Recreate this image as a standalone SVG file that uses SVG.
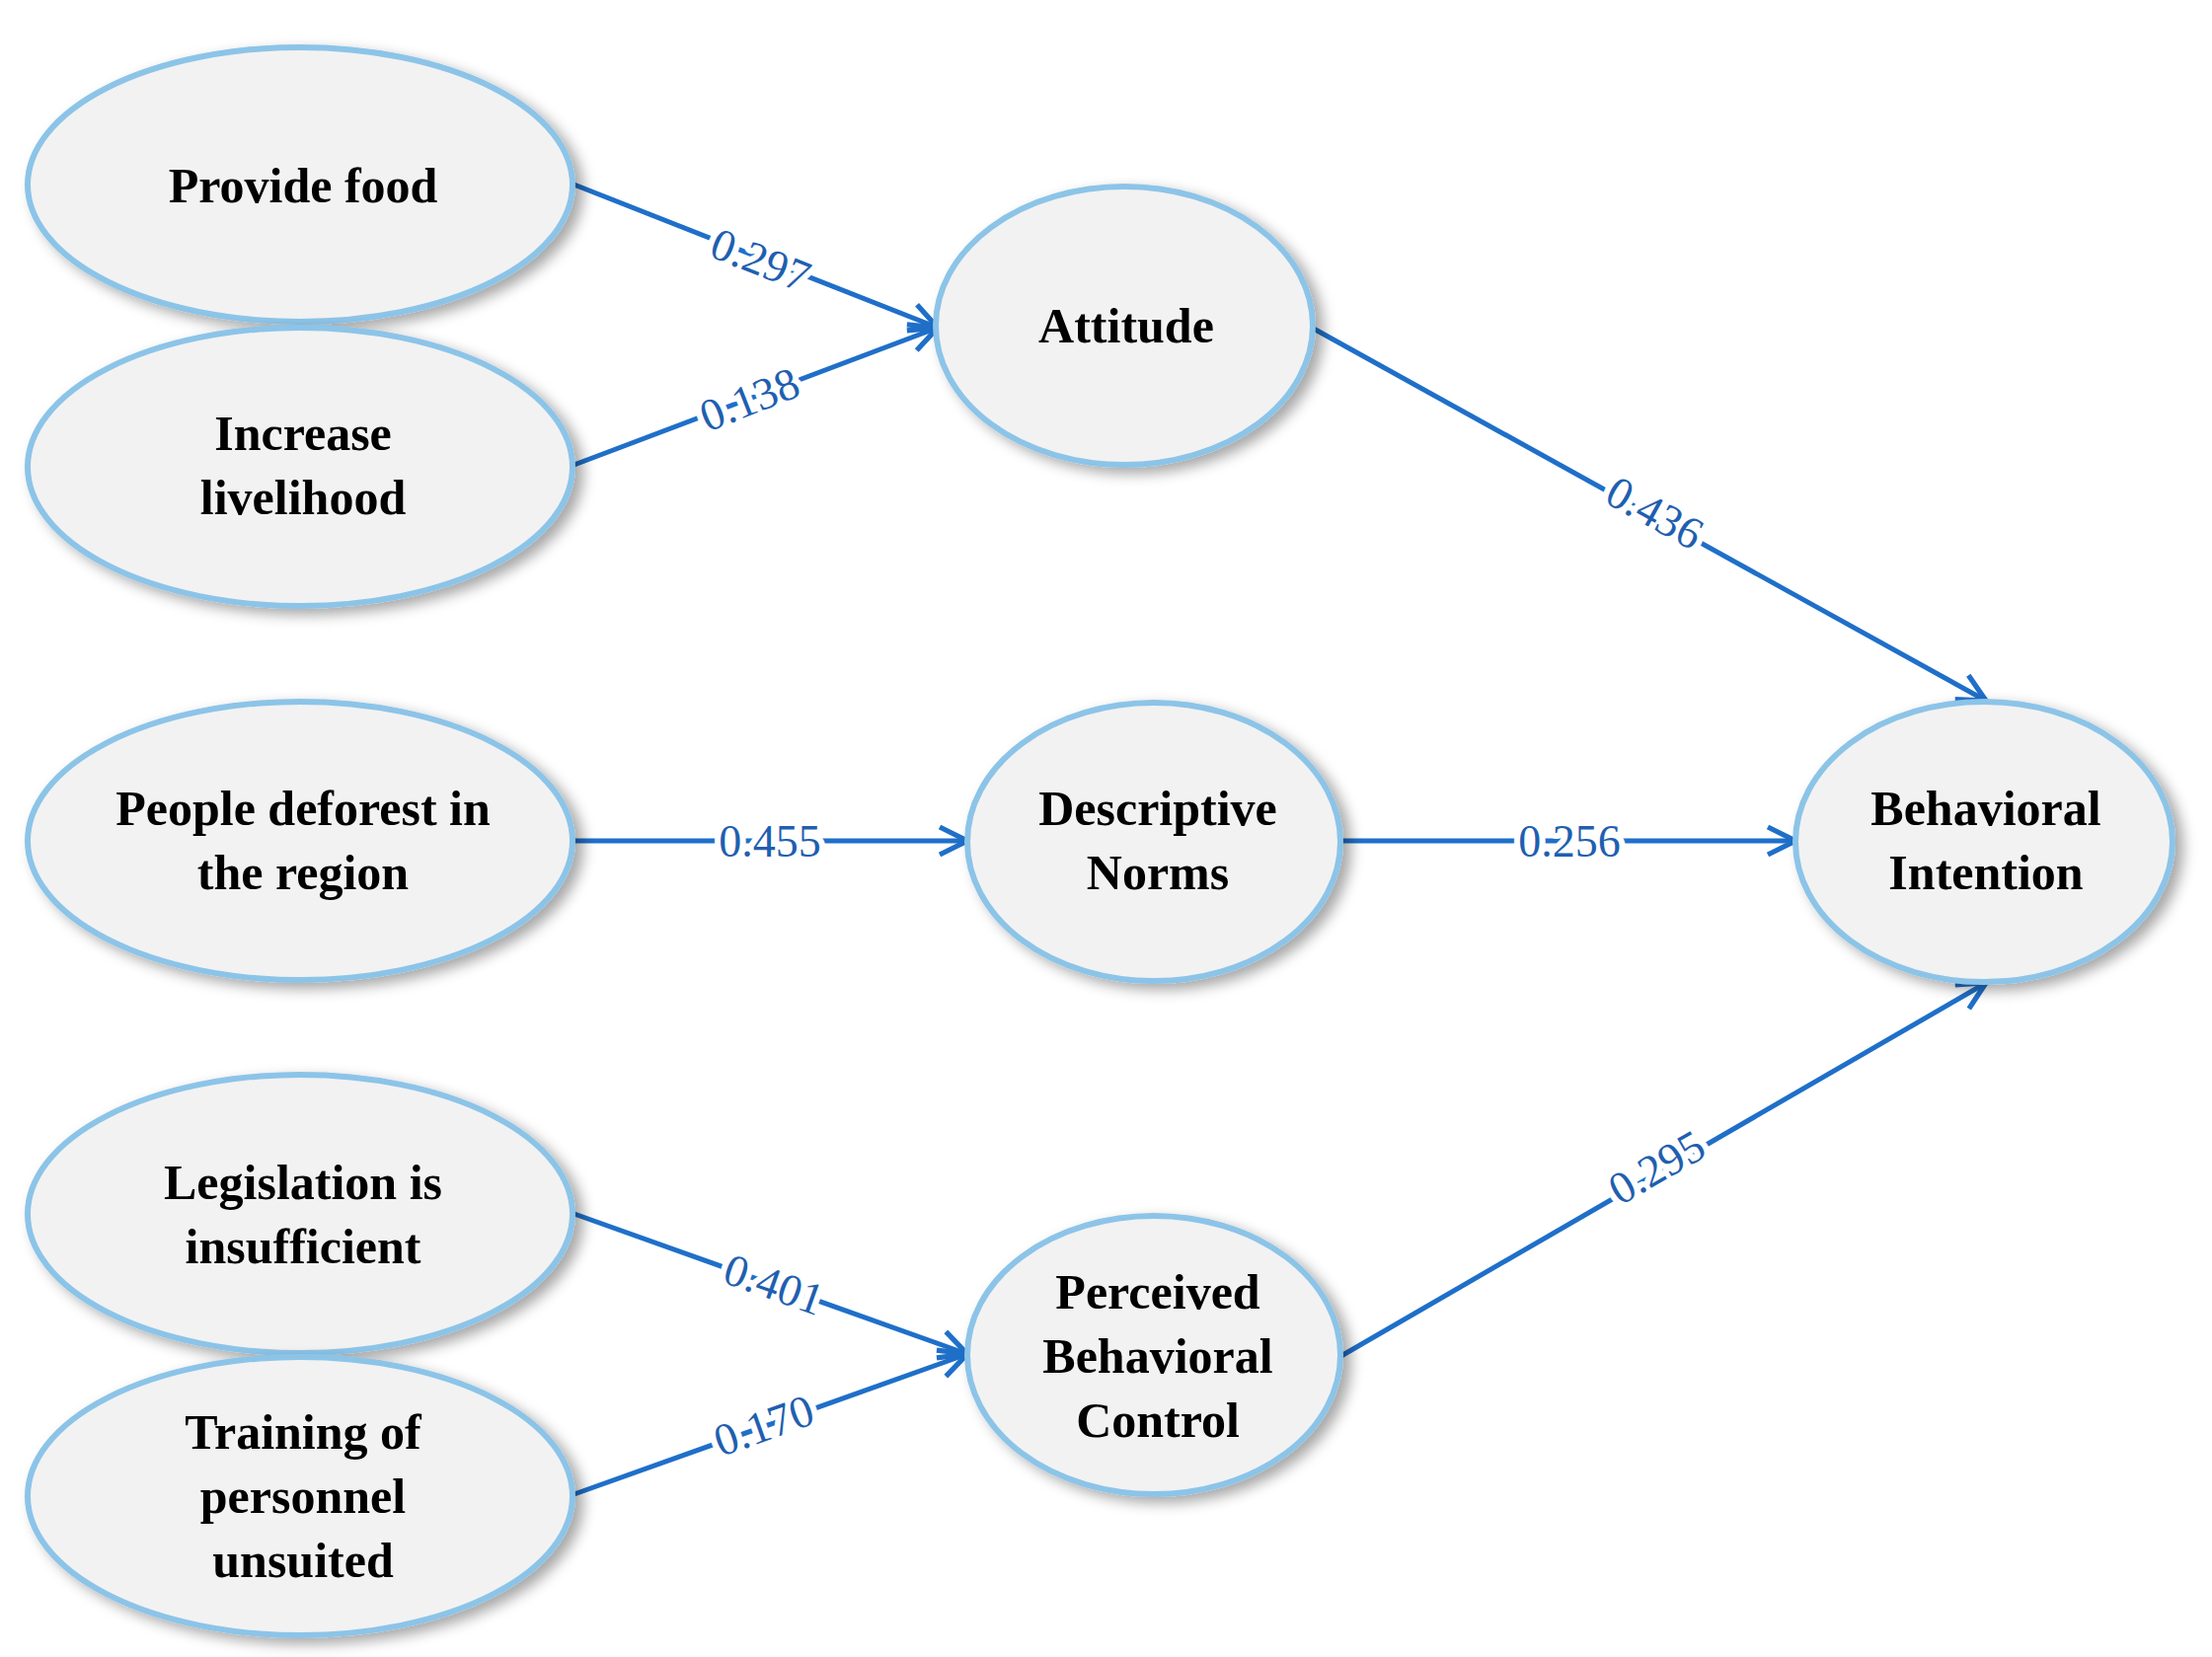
<svg xmlns="http://www.w3.org/2000/svg" width="2241" height="1679" viewBox="0 0 2241 1679">
<style>
.n ellipse{fill:#f2f2f2;stroke:#8cc4e8;stroke-width:6;filter:url(#sh)}
.n text{font-family:"Liberation Serif",serif;font-weight:bold;font-size:50px;text-anchor:middle;fill:#000}
.e line{stroke:#1f6fc9;stroke-width:5;marker-end:url(#ar)}
.l{font-family:"Liberation Serif",serif;font-size:46px;fill:#1f5fb0;text-anchor:middle;stroke:#fff;stroke-width:12;stroke-linejoin:round;paint-order:stroke fill}
</style>
<defs>
<filter id="sh" x="-20%" y="-20%" width="140%" height="140%"><feDropShadow dx="8" dy="6" stdDeviation="7" flood-color="#000" flood-opacity="0.35"/></filter>
<marker id="ar" viewBox="0 0 20 20" refX="18" refY="10" markerWidth="7" markerHeight="7" orient="auto" markerUnits="strokeWidth"><polyline points="2,2 18,10 2,18" fill="none" stroke="#1f6fc9" stroke-width="3"/></marker>
</defs>
<rect width="2241" height="1679" fill="#fff"/>
<g id="connectors" class="e">
<line x1="579" y1="186" x2="950" y2="332"/>
<line x1="579" y1="472" x2="950" y2="332"/>
<line x1="1329" y1="332" x2="2012" y2="710"/>
<line x1="579" y1="852" x2="980" y2="852"/>
<line x1="1357" y1="852" x2="1819" y2="852"/>
<line x1="579" y1="1229" x2="980" y2="1372"/>
<line x1="579" y1="1515" x2="980" y2="1372"/>
<line x1="1357" y1="1375" x2="2012" y2="996"/>
</g>
<g id="n1" class="n"><ellipse cx="304" cy="187" rx="276" ry="139"/><text x="307" y="205">Provide food</text></g>
<g id="n2" class="n"><ellipse cx="304" cy="473" rx="276" ry="141"/><text x="307" y="456">Increase</text><text x="307" y="521">livelihood</text></g>
<g id="n3" class="n"><ellipse cx="1139" cy="330" rx="191" ry="141"/><text x="1141" y="347">Attitude</text></g>
<g id="n4" class="n"><ellipse cx="304" cy="852" rx="276" ry="141"/><text x="307" y="836">People deforest in</text><text x="307" y="901">the region</text></g>
<g id="n5" class="n"><ellipse cx="1169" cy="853" rx="189" ry="141"/><text x="1173" y="836">Descriptive</text><text x="1173" y="901">Norms</text></g>
<g id="n6" class="n"><ellipse cx="2010" cy="853" rx="191" ry="142"/><text x="2012" y="836">Behavioral</text><text x="2012" y="901">Intention</text></g>
<g id="n7" class="n"><ellipse cx="304" cy="1230" rx="276" ry="141"/><text x="307" y="1215">Legislation is</text><text x="307" y="1280">insufficient</text></g>
<g id="n8" class="n"><ellipse cx="304" cy="1516" rx="276" ry="141"/><text x="307" y="1468">Training of</text><text x="307" y="1533">personnel</text><text x="307" y="1598">unsuited</text></g>
<g id="n9" class="n"><ellipse cx="1169" cy="1373" rx="189" ry="141"/><text x="1173" y="1326">Perceived</text><text x="1173" y="1391">Behavioral</text><text x="1173" y="1456">Control</text></g>
<g id="labels">
<text class="l" transform="translate(765,278) rotate(21.4)">0.297</text>
<text class="l" transform="translate(765,419) rotate(-21.4)">0.138</text>
<text class="l" transform="translate(1669,533) rotate(29)">0.436</text>
<text class="l" x="780" y="868">0.455</text>
<text class="l" x="1590" y="868">0.256</text>
<text class="l" transform="translate(779,1316) rotate(19.6)">0.401</text>
<text class="l" transform="translate(779,1459) rotate(-19.6)">0.170</text>
<text class="l" transform="translate(1686,1196) rotate(-30)">0.295</text>
</g>
</svg>
